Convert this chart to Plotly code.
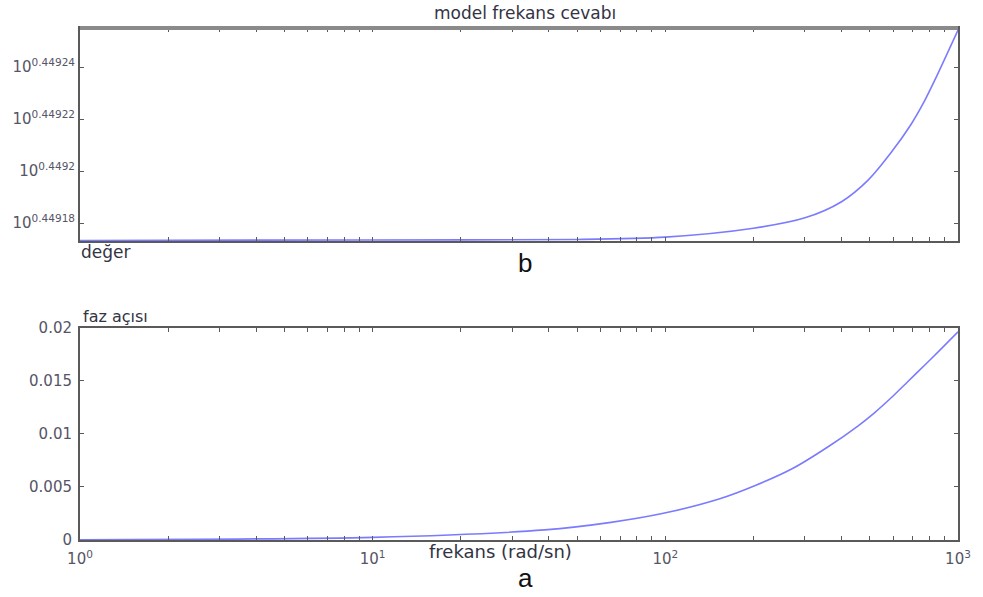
import plotly.graph_objects as go

# ---- data ----
# magnitude (top panel): frequency [rad/sn] and log10 of magnitude
mag_freq = [1, 10, 50, 100, 200, 300, 400, 493, 589, 689, 762, 849, 1000]
mag_log10 = [0.4491733, 0.4491735, 0.4491737, 0.4491746, 0.4491780, 0.4491820,
             0.4491882, 0.4491965, 0.4492069, 0.4492177, 0.4492262, 0.4492369, 0.4492542]

# phase (bottom panel)
ph_freq = [1, 10, 38.7, 65.2, 98.5, 153.5, 203, 271, 361, 456, 517, 600, 673, 769, 869, 1000]
ph_val = [0.00002, 0.00025, 0.00095, 0.00166, 0.00251, 0.00388, 0.00513, 0.00670,
          0.00880, 0.01075, 0.01195, 0.01355, 0.01490, 0.01645, 0.01790, 0.01960]

mag_tick_exp = ["0.44918", "0.4492", "0.44922", "0.44924"]
phase_ticks = [0, 0.005, 0.01, 0.015, 0.02]
phase_ticktext = ["0", "0.005", "0.01", "0.015", "0.02"]
decades = [1, 10, 100, 1000]
decade_labels = ["10<sup>0</sup>", "10<sup>1</sup>", "10<sup>2</sup>", "10<sup>3</sup>"]

mag_values = [10 ** v for v in mag_log10]

# log x tick positions (decades + minor)
xt_vals, xt_text = [], []
for d, lab in zip(decades[:-1], decade_labels[:-1]):
    for m in range(1, 10):
        xt_vals.append(d * m)
        xt_text.append(lab if m == 1 else "")
xt_vals.append(decades[-1])
xt_text.append(decade_labels[-1])

LINE = "#7b7bff"
AX = "#5a5a5a"
FONT = "DejaVu Sans"
TICKC = "#555566"

fig = go.Figure()
fig.add_trace(go.Scatter(x=mag_freq, y=mag_values, mode="lines",
                         line=dict(color=LINE, width=1.6, shape="spline", smoothing=0.8),
                         xaxis="x", yaxis="y", showlegend=False))
fig.add_trace(go.Scatter(x=ph_freq, y=ph_val, mode="lines",
                         line=dict(color=LINE, width=1.6, shape="spline", smoothing=0.8),
                         xaxis="x2", yaxis="y2", showlegend=False))

axis_common = dict(showline=True, linecolor=AX, linewidth=2, mirror="ticks",
                   ticks="inside", ticklen=4, tickcolor=AX, showgrid=False,
                   zeroline=False, tickfont=dict(family=FONT, size=15, color=TICKC))

fig.update_layout(
    width=983, height=597,
    margin=dict(l=80, r=15, t=28, b=57),
    paper_bgcolor="white", plot_bgcolor="white",
    xaxis=dict(type="log", range=[0, 3], domain=[0, 1], anchor="y",
               tickvals=xt_vals, ticktext=["" for _ in xt_text], **axis_common),
    yaxis=dict(type="log", domain=[0.584, 1.0], anchor="x",
               range=[0.4491731, 0.449255],
               tickvals=[10 ** float(e) for e in mag_tick_exp],
               ticktext=["10<sup>" + e + "</sup>" for e in mag_tick_exp],
               **axis_common),
    xaxis2=dict(type="log", range=[0, 3], domain=[0, 1], anchor="y2",
                tickvals=xt_vals, ticktext=xt_text, ticklabelstandoff=4, **axis_common),
    yaxis2=dict(range=[0, 0.02], domain=[0, 0.415], anchor="x2",
                tickvals=phase_ticks, ticktext=phase_ticktext, ticklabelstandoff=3,
                **axis_common),
    shapes=[dict(type="line", xref="paper", yref="paper", x0=0, x1=1, y0=1, y1=1,
                 line=dict(color="#8a8a8a", width=4))],
)

ann = []
def txt(t, x, y, size, color="#333344", xanchor="center", family=FONT):
    ann.append(dict(text=t, x=x, y=y, xref="paper", yref="paper", showarrow=False,
                    xanchor=xanchor, yanchor="middle",
                    font=dict(family=family, size=size, color=color)))

txt("model frekans cevabı", 0.5068, 1.029, 17)
txt("değer", -0.001, 0.5625, 17, xanchor="left")
txt("b", 0.507, 0.541, 26, color="#111111", family="Liberation Sans")
txt("faz açısı", 0.001, 0.4375, 16, xanchor="left")
txt("frekans (rad/sn)", 0.4786, -0.0215, 18)
txt("a", 0.507, -0.074, 26, color="#111111", family="Liberation Sans")
fig.update_layout(annotations=ann)

fig.write_html("out.html")
